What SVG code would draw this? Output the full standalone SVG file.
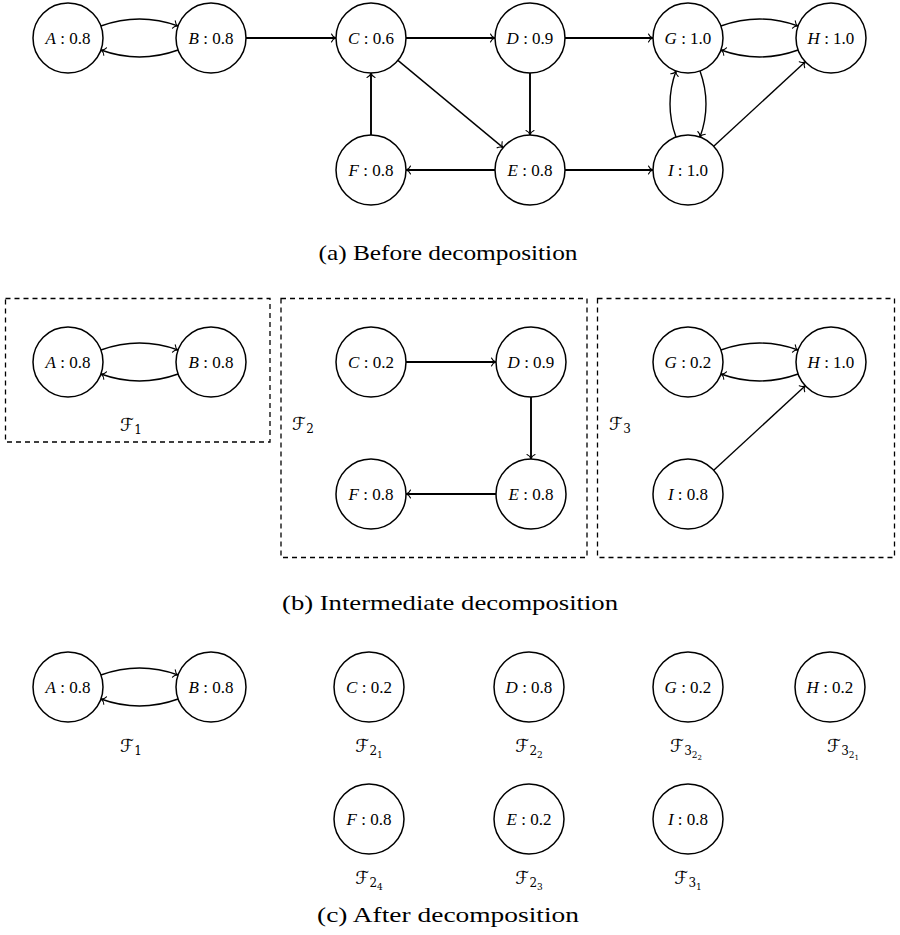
<svg xmlns="http://www.w3.org/2000/svg" width="900" height="935" viewBox="0 0 900 935">
<style>
.n{fill:#fff;stroke:#000;stroke-width:1.5}
.t{font-family:"Liberation Serif","Times New Roman",serif;font-size:17px;text-anchor:middle;fill:#000}
.t .v{font-style:italic}
.e{fill:none;stroke:#000;stroke-width:1.9;marker-end:url(#to)}
.c{fill:none;stroke:#000;stroke-width:1.4;marker-end:url(#to)}
.box{fill:none;stroke:#000;stroke-width:1.3;stroke-dasharray:5 4}
.f{font-family:"DejaVu Serif","DejaVu Sans",serif;font-size:18px;text-anchor:middle;fill:#000;font-style:italic}
.s1{font-size:12px;font-style:normal}
.s2{font-size:9px;font-style:normal}
.s3{font-size:7px;font-style:normal}
.cap{font-family:"Liberation Serif","Times New Roman",serif;font-size:21px;text-anchor:middle;fill:#000}
</style>
<defs>
<marker id="to" viewBox="-6 -5 7 10" refX="0" refY="0" markerWidth="7" markerHeight="10" markerUnits="userSpaceOnUse" orient="auto">
<path d="M-4.5,-4 C-3.5,-1.5 -1.2,-0.3 0,0 C-1.2,0.3 -3.5,1.5 -4.5,4" fill="none" stroke="#000" stroke-width="1.1" stroke-linecap="round"/>
</marker>
</defs>

<!-- (a) -->
<g id="edges-a">
<path class="c" d="M100.9,26 Q139.5,12 178.1,26"/>
<path class="c" d="M178.1,50 Q139.5,64 100.9,50"/>
<path class="e" d="M246,38 L336,38"/>
<path class="e" d="M406,38 L495,38"/>
<path class="e" d="M565,38 L653,38"/>
<path class="c" d="M397.9,60.4 L503.1,147.6"/>
<path class="e" d="M530,73 L530,135"/>
<path class="e" d="M371,135 L371,73"/>
<path class="e" d="M495,170 L406,170"/>
<path class="e" d="M565,170 L653,170"/>
<path class="c" d="M720.9,26 Q759.5,12 798.1,26"/>
<path class="c" d="M798.1,50 Q759.5,64 720.9,50"/>
<path class="c" d="M700,70.9 Q712,104 700,137.1"/>
<path class="c" d="M676,137.1 Q664,104 676,70.9"/>
<path class="c" d="M713.7,146.3 L805.3,61.7"/>
</g>
<g id="a-A"><circle class="n" cx="68" cy="38" r="35"/><text class="t" x="68" y="43.5"><tspan class="v">A</tspan> : 0.8</text></g>
<g id="a-B"><circle class="n" cx="211" cy="38" r="35"/><text class="t" x="211" y="43.5"><tspan class="v">B</tspan> : 0.8</text></g>
<g id="a-C"><circle class="n" cx="371" cy="38" r="35"/><text class="t" x="371" y="43.5"><tspan class="v">C</tspan> : 0.6</text></g>
<g id="a-D"><circle class="n" cx="530" cy="38" r="35"/><text class="t" x="530" y="43.5"><tspan class="v">D</tspan> : 0.9</text></g>
<g id="a-G"><circle class="n" cx="688" cy="38" r="35"/><text class="t" x="688" y="43.5"><tspan class="v">G</tspan> : 1.0</text></g>
<g id="a-H"><circle class="n" cx="831" cy="38" r="35"/><text class="t" x="831" y="43.5"><tspan class="v">H</tspan> : 1.0</text></g>
<g id="a-F"><circle class="n" cx="371" cy="170" r="35"/><text class="t" x="371" y="175.5"><tspan class="v">F</tspan> : 0.8</text></g>
<g id="a-E"><circle class="n" cx="530" cy="170" r="35"/><text class="t" x="530" y="175.5"><tspan class="v">E</tspan> : 0.8</text></g>
<g id="a-I"><circle class="n" cx="688" cy="170" r="35"/><text class="t" x="688" y="175.5"><tspan class="v">I</tspan> : 1.0</text></g>
<text class="cap" x="448" y="260" textLength="259" lengthAdjust="spacingAndGlyphs">(a) Before decomposition</text>

<!-- (b) -->
<g id="cluster-F1"><rect class="box" x="5.5" y="298.5" width="264.5" height="143.5"/><text class="f" x="131" y="431">ℱ<tspan class="s1" dy="3">1</tspan></text></g>
<g id="cluster-F2"><rect class="box" x="281" y="298.5" width="306" height="259"/><text class="f" x="303" y="430">ℱ<tspan class="s1" dy="3">2</tspan></text></g>
<g id="cluster-F3"><rect class="box" x="597.5" y="298.5" width="297" height="259"/><text class="f" x="620" y="430">ℱ<tspan class="s1" dy="3">3</tspan></text></g>
<g id="edges-b">
<path class="c" d="M100.9,350 Q139.5,336 178.1,350"/>
<path class="c" d="M178.1,374 Q139.5,388 100.9,374"/>
<path class="e" d="M406,362 L496,362"/>
<path class="e" d="M531,397 L531,459"/>
<path class="e" d="M496,494 L406,494"/>
<path class="c" d="M720.9,350 Q759.5,336 798.1,350"/>
<path class="c" d="M798.1,374 Q759.5,388 720.9,374"/>
<path class="c" d="M713.7,470.3 L805.3,385.7"/>
</g>
<g id="b-A"><circle class="n" cx="68" cy="362" r="35"/><text class="t" x="68" y="367.5"><tspan class="v">A</tspan> : 0.8</text></g>
<g id="b-B"><circle class="n" cx="211" cy="362" r="35"/><text class="t" x="211" y="367.5"><tspan class="v">B</tspan> : 0.8</text></g>
<g id="b-C"><circle class="n" cx="371" cy="362" r="35"/><text class="t" x="371" y="367.5"><tspan class="v">C</tspan> : 0.2</text></g>
<g id="b-D"><circle class="n" cx="531" cy="362" r="35"/><text class="t" x="531" y="367.5"><tspan class="v">D</tspan> : 0.9</text></g>
<g id="b-F"><circle class="n" cx="371" cy="494" r="35"/><text class="t" x="371" y="499.5"><tspan class="v">F</tspan> : 0.8</text></g>
<g id="b-E"><circle class="n" cx="531" cy="494" r="35"/><text class="t" x="531" y="499.5"><tspan class="v">E</tspan> : 0.8</text></g>
<g id="b-G"><circle class="n" cx="688" cy="362" r="35"/><text class="t" x="688" y="367.5"><tspan class="v">G</tspan> : 0.2</text></g>
<g id="b-H"><circle class="n" cx="831" cy="362" r="35"/><text class="t" x="831" y="367.5"><tspan class="v">H</tspan> : 1.0</text></g>
<g id="b-I"><circle class="n" cx="688" cy="494" r="35"/><text class="t" x="688" y="499.5"><tspan class="v">I</tspan> : 0.8</text></g>
<text class="cap" x="450" y="610" textLength="336" lengthAdjust="spacingAndGlyphs">(b) Intermediate decomposition</text>

<!-- (c) -->
<g id="edges-c">
<path class="c" d="M100.9,675 Q139.5,661 178.1,675"/>
<path class="c" d="M178.1,699 Q139.5,713 100.9,699"/>
</g>
<g id="c-A"><circle class="n" cx="68" cy="687" r="35"/><text class="t" x="68" y="692.5"><tspan class="v">A</tspan> : 0.8</text></g>
<g id="c-B"><circle class="n" cx="211" cy="687" r="35"/><text class="t" x="211" y="692.5"><tspan class="v">B</tspan> : 0.8</text></g>
<text class="f" x="131" y="752">ℱ<tspan class="s1" dy="3">1</tspan></text>
<g id="c-C"><circle class="n" cx="369" cy="687" r="35"/><text class="t" x="369" y="692.5"><tspan class="v">C</tspan> : 0.2</text><text class="f" x="369" y="752">ℱ<tspan class="s1" dy="3">2</tspan><tspan class="s2" dy="3">1</tspan></text></g>
<g id="c-D"><circle class="n" cx="529" cy="687" r="35"/><text class="t" x="529" y="692.5"><tspan class="v">D</tspan> : 0.8</text><text class="f" x="529" y="752">ℱ<tspan class="s1" dy="3">2</tspan><tspan class="s2" dy="3">2</tspan></text></g>
<g id="c-G"><circle class="n" cx="688" cy="687" r="35"/><text class="t" x="688" y="692.5"><tspan class="v">G</tspan> : 0.2</text><text class="f" x="686" y="752">ℱ<tspan class="s1" dy="3">3</tspan><tspan class="s2" dy="3">2</tspan><tspan class="s3" dy="2">2</tspan></text></g>
<g id="c-H"><circle class="n" cx="830" cy="687" r="35"/><text class="t" x="830" y="692.5"><tspan class="v">H</tspan> : 0.2</text><text class="f" x="843" y="752">ℱ<tspan class="s1" dy="3">3</tspan><tspan class="s2" dy="3">2</tspan><tspan class="s3" dy="2">1</tspan></text></g>
<g id="c-F"><circle class="n" cx="369" cy="819" r="35"/><text class="t" x="369" y="824.5"><tspan class="v">F</tspan> : 0.8</text><text class="f" x="369" y="884">ℱ<tspan class="s1" dy="3">2</tspan><tspan class="s2" dy="3">4</tspan></text></g>
<g id="c-E"><circle class="n" cx="529" cy="819" r="35"/><text class="t" x="529" y="824.5"><tspan class="v">E</tspan> : 0.2</text><text class="f" x="529" y="884">ℱ<tspan class="s1" dy="3">2</tspan><tspan class="s2" dy="3">3</tspan></text></g>
<g id="c-I"><circle class="n" cx="688" cy="819" r="35"/><text class="t" x="688" y="824.5"><tspan class="v">I</tspan> : 0.8</text><text class="f" x="688" y="884">ℱ<tspan class="s1" dy="3">3</tspan><tspan class="s2" dy="3">1</tspan></text></g>
<text class="cap" x="448" y="922" textLength="262" lengthAdjust="spacingAndGlyphs">(c) After decomposition</text>
</svg>
